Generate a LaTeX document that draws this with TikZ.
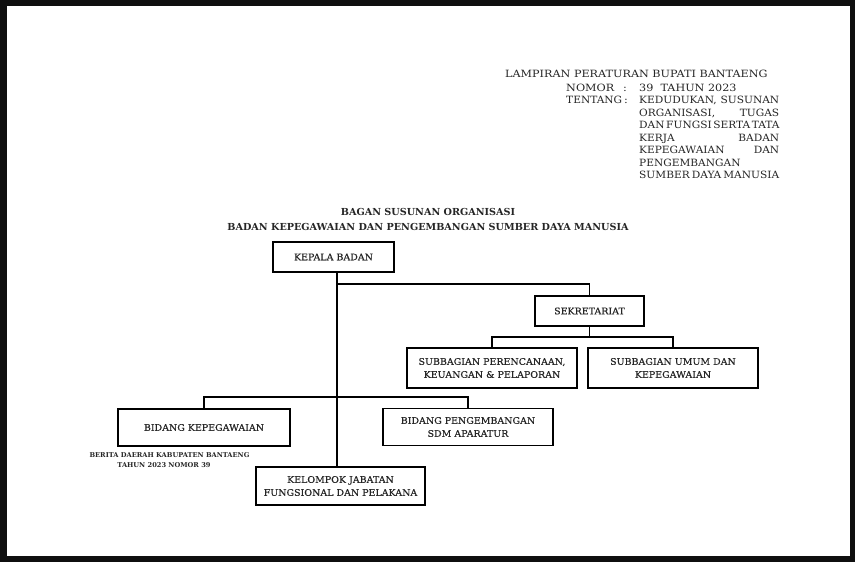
\documentclass[tikz,border=0pt]{standalone}
\usepackage{fontspec}
\setmainfont{DejaVu Serif}
\newfontfamily\hdrfont[FakeStretch=1.12]{DejaVu Serif}
\newfontfamily\isifont[FakeStretch=1.06]{DejaVu Serif}
\newfontfamily\unitfont[FakeStretch=1.04, FakeBold=0.4]{DejaVu Serif}
\newcommand{\isibaris}[1]{{\spaceskip=2.6pt plus 30pt minus 1pt\relax\makebox[140pt][s]{#1}}}
\definecolor{ink}{HTML}{262626}
\definecolor{frame}{HTML}{0F0F0F}
\tikzset{
  unit/.style={draw=black, line width=1.5pt, text=ink, align=center, inner sep=0,
    font=\unitfont\fontsize{9.1}{13}\selectfont},
  link/.style={draw=black, line width=1.5pt},
  hdr/.style={anchor=base west, inner sep=0, text=ink, font=\hdrfont\fontsize{10}{12}\selectfont},
  isi/.style={hdr, font=\isifont\fontsize{10}{12}\selectfont},
  judulstyle/.style={text=ink, inner sep=0, font=\bfseries\fontsize{9.65}{12}\selectfont}
}
\begin{document}
\begin{tikzpicture}[x=1pt, y=-1pt]
		% page and frame
		\fill[frame] (0, 0) rectangle (855, 562);
		\fill[white] (7, 6) rectangle (850, 556);

		% header
		\node[hdr] (lampiran) at (505, 77) {LAMPIRAN PERATURAN BUPATI BANTAENG};
		\node[hdr] (nomor) at (566, 91) {NOMOR};
		\node[hdr] (nomorsep) at (623, 91) {:};
		\node[hdr] (nomorval) at (639, 91) {39\ \ TAHUN 2023};
		\node[isi] (tentang) at (566, 103.5) {TENTANG};
		\node[hdr] (tentangsep) at (624, 103.5) {:};
		\foreach \t [count=\i] in {{KEDUDUKAN, SUSUNAN}, {ORGANISASI, TUGAS}, {DAN FUNGSI SERTA TATA},
				{KERJA BADAN}, {KEPEGAWAIAN DAN}, {PENGEMBANGAN}, {SUMBER DAYA MANUSIA}} {
			\node[isi] (isi\i) at (639, 103.5+12.5*\i-12.5) {\isibaris{\t}};
		}

		% title
		\node[judulstyle] (judul) at (428, 212) {BAGAN SUSUNAN ORGANISASI};
		\node[judulstyle] (judulb) at (428, 227) {BADAN KEPEGAWAIAN DAN PENGEMBANGAN SUMBER DAYA MANUSIA};

		% boxes
		\node[unit, minimum width=121pt, minimum height=30pt] (kepala) at (333.5, 257) {KEPALA BADAN};
		\node[unit, minimum width=109pt, minimum height=30pt] (sekret) at (589.5, 311) {SEKRETARIAT};
		\node[unit, minimum width=170pt, minimum height=40pt] (subren) at (492, 368) {SUBBAGIAN PERENCANAAN,\\KEUANGAN \& PELAPORAN};
		\node[unit, minimum width=170pt, minimum height=40pt] (subumum) at (673, 368) {SUBBAGIAN UMUM DAN\\KEPEGAWAIAN};
		\node[unit, minimum width=172pt, minimum height=37pt] (bidkep) at (204, 427.5) {BIDANG KEPEGAWAIAN};
		\node[unit, minimum width=170pt, minimum height=37pt] (bidpeng) at (468, 427) {BIDANG PENGEMBANGAN\\SDM APARATUR};
		\node[unit, minimum width=169pt, minimum height=38pt] (kelompok) at (340.5, 486) {KELOMPOK JABATAN\\FUNGSIONAL DAN PELAKANA};

		% footer
		\node[text=ink, inner sep=0, font=\bfseries\fontsize{6.65}{8}\selectfont] (berita) at (169.5, 455.5) {BERITA DAERAH KABUPATEN BANTAENG};
		\node[text=ink, inner sep=0, font=\bfseries\fontsize{6.65}{8}\selectfont] (beritab) at (164, 465) {TAHUN 2023 NOMOR 39};

		% connectors
		\coordinate (batang) at (337, 0);
		\coordinate (cabsek) at (337, 284);
		\coordinate (cabsub) at (589.5, 337);
		\coordinate (cabbid) at (337, 397);
		\draw[link] (kepala.south -| batang) -- (kelompok.north -| batang);
		\draw[link] (sekret.north) |- (cabsek);
		\draw[link] (sekret.south) -- (cabsub);
		\draw[link] (subren.north) |- (cabsub) -| (subumum.north);
		\draw[link] (bidkep.north) |- (cabbid) -| (bidpeng.north);
	\end{tikzpicture}
\end{document}
